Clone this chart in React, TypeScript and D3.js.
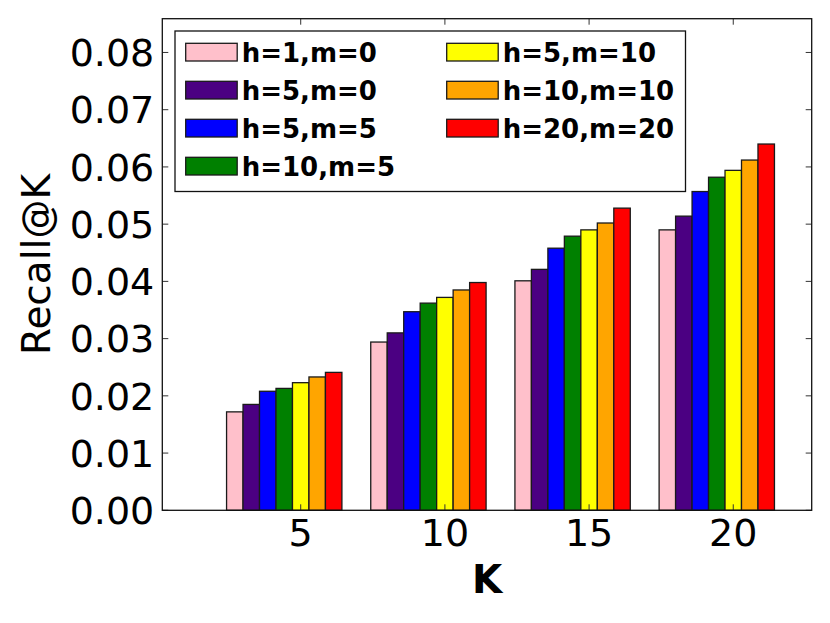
import React, { useRef, useEffect } from "react";
import * as d3 from "d3";

// K values on the x axis
const kValues = [5, 10, 15, 20];

// legend labels, one per series
const seriesLabels = [
    "h=1,m=0",
    "h=5,m=0",
    "h=5,m=5",
    "h=10,m=5",
    "h=5,m=10",
    "h=10,m=10",
    "h=20,m=20",
];

const seriesColors = ["#ffc0cb", "#4b0082", "#0000ff", "#008000", "#ffff00", "#ffa500", "#ff0000"];

// Recall@K per series, in order of kValues
const h1m0 = [0.0172, 0.0294, 0.0401, 0.049];
const h5m0 = [0.0185, 0.031, 0.0421, 0.0514];
const h5m5 = [0.0208, 0.0347, 0.0458, 0.0557];
const h10m5 = [0.0213, 0.0362, 0.0479, 0.0582];
const h5m10 = [0.0223, 0.0372, 0.049, 0.0594];
const h10m10 = [0.0233, 0.0385, 0.0502, 0.0612];
const h20m20 = [0.0241, 0.0398, 0.0528, 0.064];

const seriesValues = [h1m0, h5m0, h5m5, h10m5, h5m10, h10m10, h20m20];

const yTicks = [0, 0.01, 0.02, 0.03, 0.04, 0.05, 0.06, 0.07, 0.08];

const App: React.FC = () => {
    const svgRef = useRef<SVGSVGElement>(null);

    useEffect(() => {
        const svgElement = svgRef.current;
        if (!svgElement) return;

        const width = 830;
        const height = 623;
        const margin = { top: 18.7, right: 18.3, bottom: 112.7, left: 162.3 };
        const innerW = width - margin.left - margin.right;
        const innerH = height - margin.top - margin.bottom;
        const font = "DejaVu Sans, sans-serif";

        d3.select(svgElement).selectAll("*").remove();

        const svg = d3.select(svgElement).attr("width", width).attr("height", height);
        const chart = svg.append("g").attr("transform", `translate(${margin.left}, ${margin.top})`);

        const x = d3.scaleLinear().domain([0.2, 22.72]).range([0, innerW]);
        const y = d3.scaleLinear().domain([0, 0.0859]).range([innerH, 0]);

        const barW = 4 / 7;

        // bars
        seriesValues.forEach((vals, i) => {
            chart
                .append("g")
                .selectAll("rect")
                .data(vals)
                .join("rect")
                .attr("x", (_, j) => x(kValues[j] + (i - 4.5) * barW))
                .attr("y", (d) => y(d))
                .attr("width", x(barW) - x(0))
                .attr("height", (d) => y(0) - y(d))
                .attr("fill", seriesColors[i])
                .attr("stroke", "#1a1a1a")
                .attr("stroke-width", 1.3);
        });

        // inward ticks on all sides
        const tickLen = 6;
        const ticks = chart.append("g").attr("stroke", "#333").attr("stroke-width", 1);
        yTicks.forEach((t) => {
            ticks.append("line").attr("x1", 0).attr("x2", tickLen).attr("y1", y(t)).attr("y2", y(t));
            ticks.append("line").attr("x1", innerW).attr("x2", innerW - tickLen).attr("y1", y(t)).attr("y2", y(t));
        });
        kValues.forEach((k) => {
            ticks.append("line").attr("x1", x(k)).attr("x2", x(k)).attr("y1", innerH).attr("y2", innerH - tickLen);
            ticks.append("line").attr("x1", x(k)).attr("x2", x(k)).attr("y1", 0).attr("y2", tickLen);
        });

        // frame
        chart
            .append("rect")
            .attr("width", innerW)
            .attr("height", innerH)
            .attr("fill", "none")
            .attr("stroke", "#111")
            .attr("stroke-width", 1.3);

        // tick labels
        chart
            .append("g")
            .selectAll("text")
            .data(yTicks)
            .join("text")
            .attr("x", -8)
            .attr("y", (d) => y(d))
            .attr("dy", "0.36em")
            .attr("text-anchor", "end")
            .attr("font-family", font)
            .attr("font-size", 38)
            .text((d) => d3.format(".2f")(d));

        chart
            .append("g")
            .selectAll("text")
            .data(kValues)
            .join("text")
            .attr("x", (d) => x(d))
            .attr("y", innerH + 36)
            .attr("text-anchor", "middle")
            .attr("font-family", font)
            .attr("font-size", 38)
            .text((d) => d);

        // axis titles
        svg.append("text")
            .attr("x", margin.left + innerW / 2)
            .attr("y", 593)
            .attr("text-anchor", "middle")
            .attr("font-family", font)
            .attr("font-size", 39)
            .attr("font-weight", "bold")
            .text("K");

        svg.append("text")
            .attr("transform", `translate(50, ${margin.top + innerH / 2}) rotate(-90)`)
            .attr("text-anchor", "middle")
            .attr("font-family", font)
            .attr("font-size", 39)
            .text("Recall@K");

        // legend
        const legend = svg.append("g").attr("transform", "translate(175, 31)");
        legend
            .append("rect")
            .attr("width", 510.5)
            .attr("height", 160.5)
            .attr("fill", "white")
            .attr("stroke", "#111")
            .attr("stroke-width", 1.3);

        seriesLabels.forEach((label, i) => {
            const col = i < 4 ? 0 : 1;
            const row = i < 4 ? i : i - 4;
            const g = legend.append("g").attr("transform", `translate(${col === 0 ? 10.7 : 271.7}, ${12.3 + row * 38})`);
            g.append("rect")
                .attr("width", 51.5)
                .attr("height", 17.7)
                .attr("fill", seriesColors[i])
                .attr("stroke", "#1a1a1a")
                .attr("stroke-width", 1.3);
            g.append("text")
                .attr("x", 56)
                .attr("y", 9)
                .attr("dy", "0.36em")
                .attr("font-family", font)
                .attr("font-size", 26)
                .attr("font-weight", "bold")
                .text(label);
        });
    }, []);

    return <svg ref={svgRef} style={{ position: "absolute", left: 0, top: 0 }}></svg>;
};

export default App;
